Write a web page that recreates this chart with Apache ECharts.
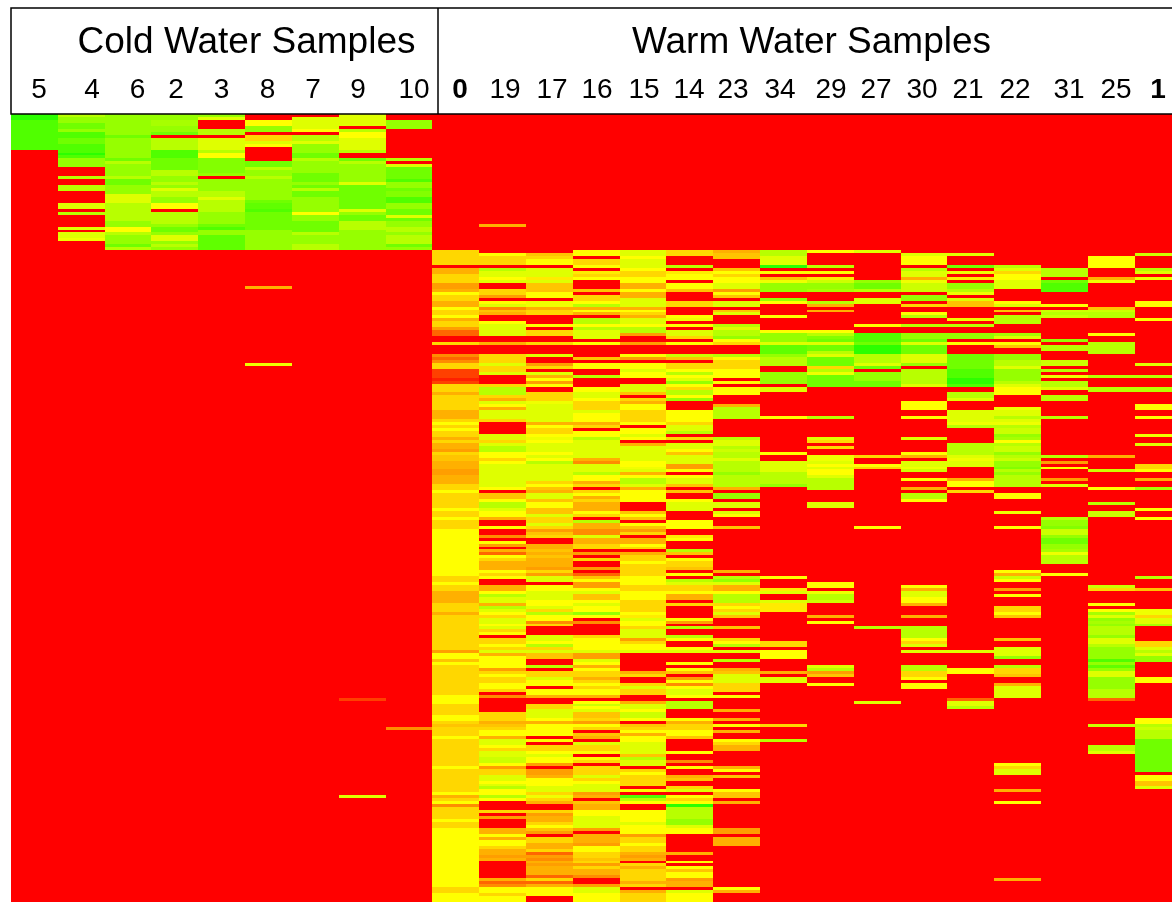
<!DOCTYPE html>
<html><head><meta charset="utf-8">
<style>html,body{margin:0;padding:0;background:#fff}#c{width:1172px;height:902px}</style>
<script src="https://cdn.jsdelivr.net/npm/echarts@6/dist/echarts.min.js"></script>
</head><body><div id="c"></div>
<script>
const sampleIds = ['5','4','6','2','3','8','7','9','10','0','19','17','16','15','14','23','34','29','27','30','21','22','31','25','1'];
const boldIds = ['0','1'];
const groupTitles = ['Cold Water Samples','Warm Water Samples'];
const ROWS = 266;
// Each column: row where a level starts, then that level (it holds until the next entry).
const c5=[0,11,2,10,12,0];
const c4=[0,7,1,8,3,9,5,8,6,10,8,9,10,10,13,11,14,10,15,8,18,0,21,7,22,0,24,7,26,0,30,6,32,0,33,7,34,0,38,6,39,0,40,6,42,5.5,43,0];
const c6=[0,8,7,9,8,8,15,9,16,7,17,8,21,7,22,9,24,8,27,6,30,7,36,8,38,5,40,7,41,8,44,9,45,7,46,0];
const c2=[0,8,2,7.5,4,8,6,9,7,0,8,7,12,10,15,9,19,7,21,8,23,7,24,8,25,6,26,7,28,8,30,5,32,0,33,7,37,8,38,9,40,8,41,6,43,8,44,7,45,8,46,0];
const c3=[0,8,1,6,2,0,5,7,7,0,8,6,12,7,13,5,15,8.5,20,8,21,0,22,8,26,7,28,6,29,7,33,8,37,9,38,10,39,8,41,9.5,46,0];
const c8=[0,0,2,5,4,8,6,0,7,4,9,6,10,5,11,0,16,9,18,7,19,8,21,7,22,8,29,9,30,9.5,32,10,33,9,39,8,46,0,58,3,59,0,84,5.5,85,0];
const c7=[0,0,1,6,5,5,6,0,7,7,9,6,10,8,13,9,15,7,16,8,20,9,23,8,24,9,25,7,26,9,28,8,33,5,34,8,36,9,40,7,41,8,44,7,46,0];
const c9=[0,6,4,0,5,7,6,5,8,6,12,7,13,0,15,9,16,7,17,8,23,6,24,9,32,6,33,8,34,9,36,7,39,8,46,0,197,1,198,0,230,6,231,0];
const c10=[0,0,2,8,5,0,15,7,16,0,17,6,18,9,22,10,23,8,25,9,26,8.5,28,10,30,8,32,9,34,6,35,9,36,8,38,7,40,8,41,7,44,9,45,8,46,0,207,2,208,0];
const c0=[46,4,51,0,52,3,54,4,57,2.5,59,3,60,5,61,4,63,3,65,5,66,4,68,5,69,3,70,4,72,2.5,73,1.5,75,0,77,4,78,0,81,2,82,1.5,83,2,84,4,86,1,89,.5,90,1,91,4,94,3,95,4,100,3,103,4,104,5,105,4,106,5,107,4,109,3,110,4,111,3,113,2.5,114,4,115,3.5,117,3,120,2.5,122,3,125,4,127,5,128,4,133,5,134,4,136,5,137,4,140,5,156,4,158,5,159,4,161,3,165,4,168,3,169,4,181,2.5,182,5,184,3.5,185,5,186,4,196,5,199,4,203,5,205,4,206,3.5,207,4,210,5,211,4,220,5,221,4,229,5,230,3,231,4,232,5,233,2,234,4,238,5,239,4,241,5,261,4,263,5];
const c19=[37,3,38,0,47,5,48,4,51,0,52,7,53,6,55,5,56,6,57,0,59,4,61,2.5,62,0,63,5,64,6,65,2,66,3.5,67,3,68,0,70,5,71,6,75,0,77,3,78,0,81,4,84,6,85,4,87,6,88,0,91,4,92,7,95,4,96,3,97,6,98,5,99,3,100,6,103,4,104,0,108,6,110,4,111,6,112,7,114,5,116,4,117,5,118,6,126,5,127,0,128,3.5,130,5,131,7,133,6,134,5,136,3,137,0,139,5,140,0,142,2,143,0,144,5,145,2.5,146,0,147,3,148,1.5,149,5,150,4,151,3,154,5,155,4,156,5,157,0,159,3,161,5,162,7,163,6,165,3,166,7,167,6,168,5,169,4,170,6,172,5,173,6,174,4,175,5,176,0,177,4,179,5,180,4,181,6,182,3,183,5,187,2.5,188,4,189,5,190,4,192,5,194,4,195,0,196,2,197,0,202,4,205,3,206,3.5,207,4,208,5,210,3,211,6,213,5,214,4,215,6,217,6.5,219,5,220,2.5,221,4,223,6,225,5,226,6,227,7,228,5,230,7,231,5,232,0,235,4,236,0,237,2.5,238,0,241,3,243,5,244,3,245,5,247,4,248,3,250,2.5,251,3,252,0,258,3,259,1.5,260,2,261,5,263,4,264,5];
const c17=[47,3.5,48,4,49,5,51,0,52,6,55,4.5,56,6,57,3.5,60,5,62,0,63,5.5,65,3,66,4,68,0,71,5,72,0,73,4,75,0,77,4,78,0,81,6,82,0,84,2.5,85,4,86,0,87,6,88,3,89,5,90,2.5,91,5,92,0,94,4,97,5.5,98,6,104,3,105,5,106,4,108,5,109,5.5,110,5,111,6,114,5,115,6,116,5,117,7,118,6,124,4,125,5,126,3.5,127,3,128,6,130,3.5,131,5,133,3.5,135,6,136,4,138,6,139,4,140,2.5,141,3.5,142,4,143,0,145,3,147,3.5,148,3,149,3.5,150,3,153,2.5,154,4,155,2.5,156,6,158,0,159,5,161,6,164,5,166,6,167,4,168,7,169,5,171,2,172,4,173,0,176,6,178,5,179,7,180,4,181,6,182,3.5,184,0,186,7,187,0,188,4,190,6,191,5,193,0,194,5,196,3,197,0,199,4,201,6,204,5,205,3,206,5,210,0,211,5,212,0,213,4,215,5,216,6,217,5,219,2.5,220,0,221,2.5,223,3,224,5,227,6,229,4,230,5.5,231,4,232,3,233,0,235,4,236,2.5,237,3,239,4,240,5,241,3.5,242,2.5,243,0,244,4,246,3,248,4,249,1.5,250,2.5,251,2,252,3,253,2.5,254,3,257,1.5,258,4,259,1.5,260,3,261,5,264,0];
const c16=[46,5,48,0,49,4,51,5,52,0,53,4.5,54,4,55,5,56,0,59,3.5,60,0,61,4,63,5,64,7,65,3,66,5,67,3,68,0,69,7,71,5,72,7,73,6,76,0,77,5,78,0,82,3.5,83,0,84,5,86,0,88,7,89,0,92,5,94,6,96,5,97,4,100,6,101,5,104,3,105,4,106,0,107,5,109,7,110,6,116,3,117,2,118,6,121,7,122,5,124,3,125,4,126,0,127,4,128,5,129,3,130,4,131,3,134,5,135,4,136,0,137,7,138,3,140,2,142,6,143,3,145,4,147,0,148,2.5,149,0,150,4,151,0,153,2.5,154,0,155,1.5,156,3.5,157,5,158,2.5,160,5,161,6,162,3.5,164,5,165,6,166,5,168,8,169,5,170,0,171,2,172,0,176,4,177,5,181,6,182,2.5,184,6,185,5,186,3,187,5,188,4,190,3,191,4,192,5,193,4,194,5,196,3,197,0,198,5,199,6.5,200,5,201,6,202,3.5,204,4,205,2.5,206,5,207,4,208,0,209,3.5,210,3,211,0,212,6,213,4,215,5,216,0,217,5,218,4,219,0,220,4,223,6,224,4,225,5,226,6,229,2.5,230,3,231,0,232,3.5,233,3,235,5,237,6,241,2.5,242,0,243,3,246,2.5,247,5,249,4,251,3.5,252,4,253,2.5,254,4,255,3,257,2,258,0,260,2.5,261,6,263,5];
const c15=[46,6,48,5,49,6,52,5,53,4,55,5,57,3,59,5,60,3,62,6,65,3,66,5,67,4,68,3,69,6,71,5,72,7,74,2.5,75,0,77,2.5,78,0,81,5,82,2.5,83,0,84,5,86,6,87,5,89,0,91,6,94,3.5,95,0,96,4,97,3,98,5,100,4,104,5,105,0,106,5,108,6,109,5,110,0,111,3,112,6,117,5,119,5.5,120,6,121,3,122,5,123,7,125,6,126,3,127,5,131,0,134,3.5,135,5,136,3.5,137,0,138,5,139,3.5,140,2.5,141,4,142,0,143,3,145,5,146,4,147,0,148,3,149,4,151,5,152,4,156,5,159,4,161,5,164,4,168,5,169,4.5,170,6,171,5,173,4,174,6,177,2.5,178,4,179,5,181,6,182,0,188,3,189,4,190,0,192,4,193,6,194,4,196,0,198,3,199,6,201,5,202,6.5,204,5,205,0,206,3.5,207,4,208,5,209,3,210,5,212,6,216,3.5,217,7,218,6,220,0,221,4,222,5,223,4,227,0,228,5,229,0,230,10,231,7,232,5,233,0,235,5,239,6,240,5,243,2.5,244,4,246,5,247,4,249,3,250,2.5,251,3,252,0,253,4,254,3,255,4,259,3,260,4,261,0,262,3,263,4];
const c14=[46,4,48,0,51,7,52,0,53,4.5,54,5,56,0,57,5,59,3.5,60,0,63,4,65,0,68,5,69,5.5,70,0,71,5,72,0,73,6,75,4,76,0,77,5,78,0,81,6.5,82,3.5,83,0,84,4,86,5,87,7,88,5,89,6,90,8,91,5,92,4,93,7,95,5,96,8,97,0,100,5,104,4,105,6,107,7,108,0,109,4,110,0,111,6,113,5,114,3.5,115,6,118,2.5,120,5,121,0,122,5,123,6,125,3.5,126,0,127,3.5,128,0,130,5,131,6,134,0,137,5,140,0,142,4.5,143,5,144,0,147,7,148,3.5,149,0,150,5,151,4,153,3.5,154,0,155,5,156,0,157,7,158,6,159,4,161,5,162,3,164,0,165,4,166,0,170,5,171,2.5,172,0,173,7,174,0,176,7,177,5,178,0,180,5,181,6,182,0,185,5,186,0,187,5,188,3.5,189,0,190,2.5,191,5,192,2,193,5,194,6,196,5,197,0,198,7,201,0,204,5,205,3,206,4,208,5,210,3.5,211,0,215,5,216,0,218,2,219,0,220,5,221,0,223,3,224,3.5,225,0,227,4,228,6,229,0,230,5,231,4,232,5,233,11,234,7,238,8,240,6,241,5,243,0,249,3,250,0,252,5,253,0,254,5,255,3.5,256,5,258,2.5,259,3,261,0,262,6,263,5];
const c23=[46,3,47,3.5,49,0,52,3.5,53,5,54,4,55,5,57,6,59,2.5,60,5,61,3.5,62,0,63,6,65,0,66,3.5,67,6,68,0,71,7,72,6,73,7,75,8,76,5,77,4,78,0,81,7,82,5,83,4,86,5,89,0,90,5,91,0,92,5,95,0,98,3,99,7,103,0,109,7,110,6,112,7,113,6.5,114,7,116,6,117,7,121,8,122,7,126,3,127,0,128,8,130,0,131,6,133,0,134,6,135,5,136,0,139,3.5,140,0,154,3,155,0,156,7,157,8,158,6,159,3,161,5,162,7,165,4,166,5,167,4,168,6,169,3.5,170,0,173,3.5,174,0,177,4,178,5,179,7,180,0,181,6,182,0,184,7,185,0,187,3,188,3.5,189,6,192,4,195,0,196,5,197,0,201,3,202,0,204,3,205,0,206,5,207,0,208,3,209,0,211,5,212,4,213,3,215,0,220,3,221,5,222,0,223,3.5,224,0,228,5,229,3.5,231,0,232,3,233,0,241,2.5,243,0,244,3,247,0,261,5,262,3,263,0];
const c34=[46,7,48,6,51,11,52,0,53,5,54,0,55,3.5,56,5.5,57,8,60,0,62,8,63,5,64,0,68,5,69,0,73,5,74,8,77,6,78,9.5,81,8,82,7,85,0,87,8,91,0,92,6,94,0,102,5,103,0,114,5,115,0,117,6,121,7,125,8,126,0,156,5,157,0,160,4.5,161,6,162,0,164,6,165,4.5,168,0,178,4,180,0,181,5,184,0,188,3,189,0,190,6,192,0,206,4,207,0,211,7,212,0];
const c29=[46,5,47,0,51,7,52,0,53,5,54,0,55,4.5,56,6.5,57,8,59,7.5,60,0,63,7,64,3,65,0,66,3,67,0,73,5,74,7,75,8.5,76,9,77,6,78,9,80,7,81,6,82,9,85,4,86,7,87,5.5,88,9,92,0,102,7,103,0,109,6,110,4,111,0,112,4,113,0,115,5.5,117,6,118,5,119,6,120,5,122,6,123,7,127,0,131,6,133,0,158,5,160,0,161,5.5,162,7,164,6.5,165,0,169,3,170,0,171,5,172,0,186,6,187,7,188,2.5,189,3.5,190,0,192,5,193,0];
const c27=[46,6,47,0,56,8,57,9,59,7,60,0,62,6,64,0,71,5,72,0,74,10,77,9,78,11,81,7,84,6,85,9,86,0,87,8,90,9,92,0,115,4,116,0,118,5,119,4,120,0,139,5,140,0,173,7,174,0,198,6,199,0];
const c30=[47,6,48,5,51,0,52,7,53,6,55,3,56,5.5,57,6.5,60,0,61,8,63,0,64,4,65,0,67,5,68,7,69,0,71,7,72,0,74,8,76,9,77,6,78,9,81,6,84,8,85,0,86,7,91,6,92,0,97,5,100,0,102,5,103,0,109,6,110,0,114,5,115,3,116,0,117,6,119,5.5,120,6.5,121,0,123,5,124,0,126,3,127,0,128,7,130,5,131,0,159,5,160,3,161,6,163,5,165,3,166,0,169,3,170,0,173,7,177,5,178,4,179,6,180,0,181,6,182,0,186,7,188,4,190,5,191,0,192,5,194,0];
const c21=[47,6,48,0,51,9,52,0,53,5.5,54,0,55,4.5,56,0,57,8,59,7,60,5.5,61,0,62,6,63,3.5,65,0,69,5.5,70,0,71,7,72,0,74,8,76,0,77,5,78,0,81,9,86,10,89,11,91,10,92,0,94,7,96,6,97,0,100,6,104,5.5,105,7,106,0,111,7,115,6,116,5.5,117,6,119,0,123,3,124,5,126,0,127,4,128,0,181,6,182,0,187,5,189,0,197,1.5,198,6,200,7,201,0];
const c22=[51,7,52,6,53,4,54,5,56,6,59,0,63,5,64,6,65,0,66,3.5,67,0,68,7,71,0,74,7.5,75,6,76,0,77,5,78,3.5,79,0,81,8,83,7,85,6,86,8,90,7,91,6,92,5,95,0,99,5.5,100,6,102,7,103,6,104,5.5,105,7,106,6.5,108,8,109,7.5,110,5,111,7,112,6.5,114,8,115,7,116,6.5,117,8,119,8.5,120,7,121,8,122,7,126,0,128,5,130,0,134,5.5,135,0,139,5,140,0,154,5,155,3,156,6.5,157,5,158,0,160,2.5,161,0,162,5,163,0,166,4,168,5,169,3.5,170,0,177,3.5,178,0,180,6,183,8,184,0,186,7,187,4,189,3.5,190,0,192,3,193,6,197,0,219,5,220,4,221,6,223,0,228,3,229,0,232,5,233,0,258,3,259,0];
const c31=[52,7,55,0,56,9,57,10,60,0,64,5,65,0,66,6.5,67,7,68,6.5,69,0,76,8,77,0,78,7,80,0,83,6.5,85,0,86,7,87,0,88,5.5,89,0,90,7,92,6,93,0,95,7,97,0,102,7,103,0,115,7,116,0,117,2.5,118,0,119,5,120,0,123,2.5,124,0,125,6,126,0,136,7,137,8,139,8.5,140,6.5,142,8,143,9,145,8,147,7.5,148,5.5,149,7,152,0,155,5,156,0];
const c25=[48,5,52,0,55,3,56,5.5,57,0,65,3.5,66,6.5,67,7,69,0,74,5,75,0,77,7,81,0,88,7,89,0,92,7,94,0,115,3,116,0,120,6.5,121,0,126,5,127,0,131,7,132,0,134,6.5,136,0,159,6.5,160,4,161,0,165,5,166,0,167,5,168,7.5,169,6,170,8,171,7.5,172,8,173,7,176,8,177,6,179,7,180,8,184,10,185,8,186,9.5,187,8,188,6,190,8,194,7,197,1.5,198,0,206,6.5,207,0,213,7,215,6,216,0];
const c1=[47,6.5,48,0,52,7,53,6,54,0,55,5.5,56,0,63,5,65,0,69,5,70,0,84,6,85,0,88,7,89,0,92,7,94,0,98,5,100,0,102,5,103,0,108,5.5,109,0,111,6,112,0,118,4,120,5,121,0,123,3,124,0,126,7.5,127,0,133,5,134,0,136,5,137,0,156,7,157,0,160,3.5,161,0,167,5.5,169,4,170,6,172,7.5,173,0,178,4,180,6,181,7,182,6,183,8,185,0,190,5,192,0,204,5,206,7,207,6.5,208,7,211,9,222,0,223,5,225,3.5,227,6,228,0];
const columns = [c5,c4,c6,c2,c3,c8,c7,c9,c10,c0,c19,c17,c16,c15,c14,c23,c34,c29,c27,c30,c21,c22,c31,c25,c1];

const levelColors = ['#ff0000','#ff4000','#ff8c00','#ffb000','#ffd700','#ffff00','#dfff00','#b8ff00','#96ff00','#70ff00','#50ff00','#2cff00'];
const labelX = [39,92,137.5,176,221.5,267.5,313,358,414,460,505,552,597,644,689,733,780,831,876,922,968,1015,1069,1116,1158];

const cells = [];
columns.forEach((runs, x) => {
  let lvl = 0, k = 0;
  for (let y = 0; y < ROWS; y++) {
    while (k < runs.length && runs[k] <= y) { lvl = runs[k + 1]; k += 2; }
    cells.push([x, y, lvl]);
  }
});

function renderCell(params, api) {
  const c = api.coord([api.value(0), api.value(1)]);
  const s = api.size([1, 1]);
  const x0 = Math.round(c[0] - s[0] / 2), x1 = Math.round(c[0] + s[0] / 2);
  const y0 = Math.round(c[1] - s[1] / 2), y1 = Math.round(c[1] + s[1] / 2);
  return {type: 'rect', shape: {x: x0, y: y0, width: x1 - x0, height: y1 - y0}, style: {fill: api.visual('color')}, silent: true};
}

const chart = echarts.init(document.getElementById('c'), null, {renderer: 'canvas'});
const font = '"Liberation Sans", Arial, sans-serif';
const labels = sampleIds.map((id, i) => ({
  type: 'text', x: labelX[i], y: 90, z: 100, silent: true,
  style: {text: id, fill: '#000', font: (boldIds.includes(id) ? 'bold ' : '') + '28px ' + font, textAlign: 'center', textVerticalAlign: 'middle'}
}));
chart.setOption({
  animation: false,
  backgroundColor: '#fff',
  grid: {left: 11, top: 114, width: 1170.5, height: 788, outerBoundsMode: 'none'},
  tooltip: {show: false},
  xAxis: {type: 'category', data: sampleIds, show: false},
  yAxis: {type: 'category', inverse: true, show: false, data: Array.from({length: ROWS}, (_, i) => i)},
  visualMap: {show: false, type: 'continuous', min: 0, max: levelColors.length - 1, dimension: 2, inRange: {color: levelColors}},
  series: [{type: 'custom', data: cells, encode: {x: 0, y: 1}, renderItem: renderCell, progressive: 0, silent: true, clip: true}],
  graphic: [
    {type: 'rect', z: 100, silent: true, shape: {x: 11, y: 8, width: 1200, height: 106}, style: {fill: 'none', stroke: '#000', lineWidth: 1.5}},
    {type: 'line', z: 100, silent: true, shape: {x1: 438, y1: 8, x2: 438, y2: 114}, style: {stroke: '#000', lineWidth: 1.5}},
    {type: 'text', z: 100, silent: true, x: 246.5, y: 43, style: {text: groupTitles[0], fill: '#000', font: '37px ' + font, textAlign: 'center', textVerticalAlign: 'middle'}},
    {type: 'text', z: 100, silent: true, x: 811.5, y: 43, style: {text: groupTitles[1], fill: '#000', font: '37px ' + font, textAlign: 'center', textVerticalAlign: 'middle'}},
    ...labels
  ]
});
</script></body></html>
